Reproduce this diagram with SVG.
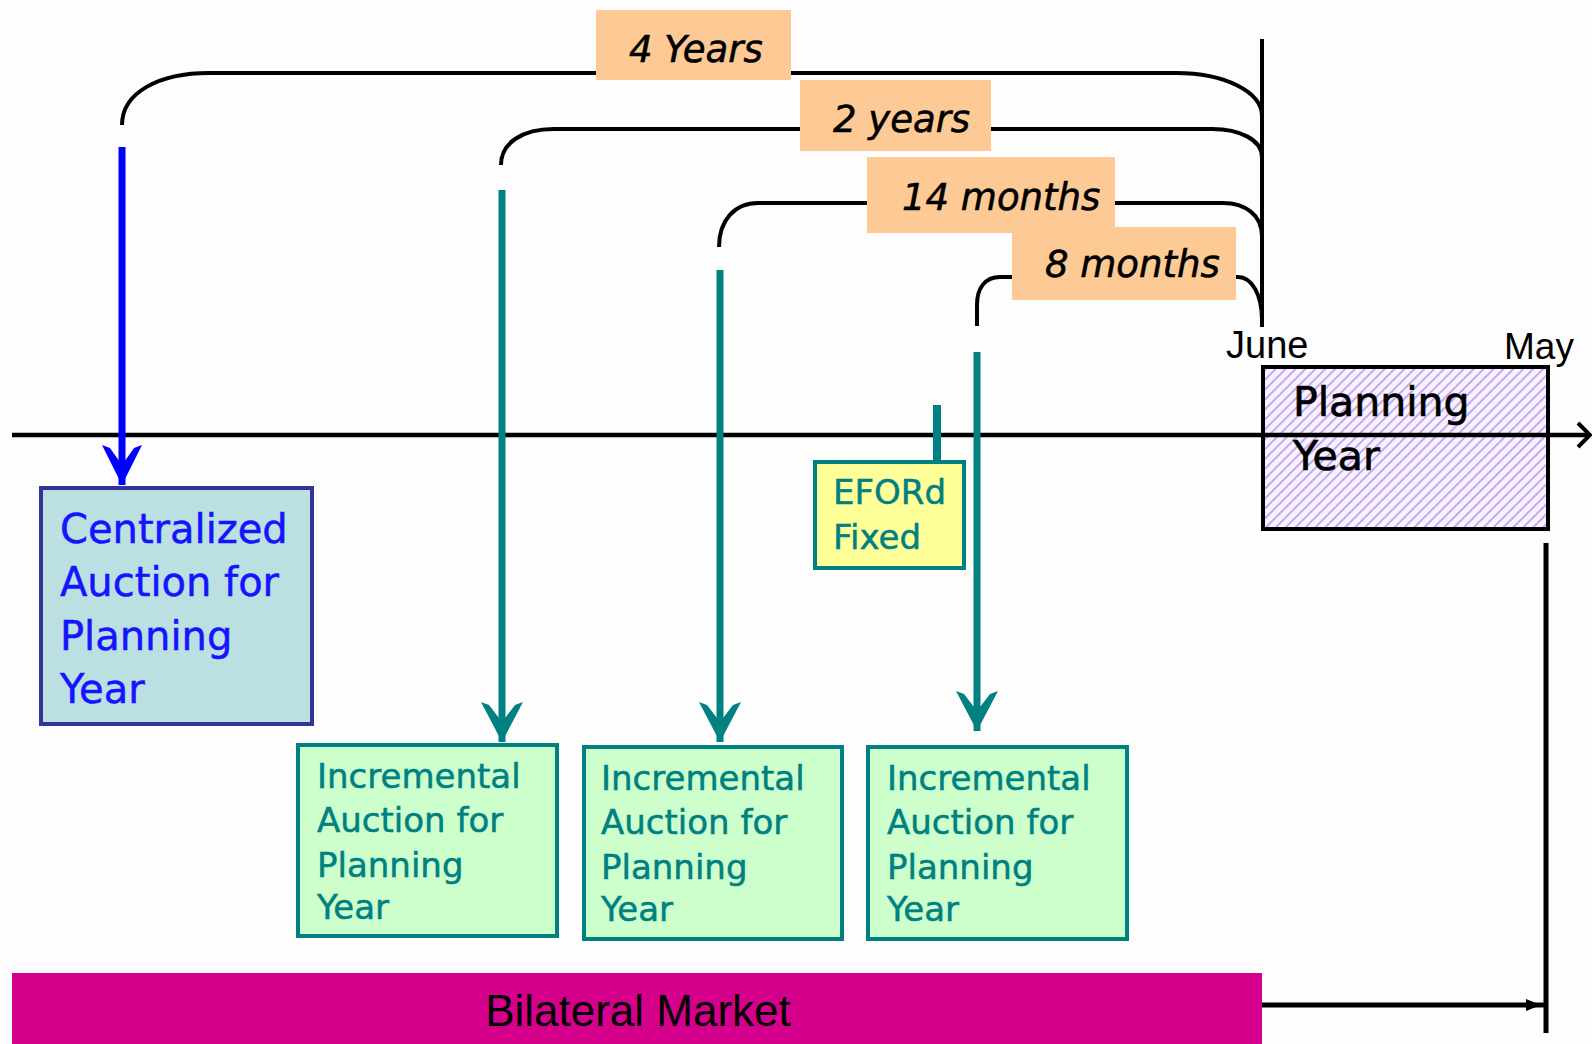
<svg xmlns="http://www.w3.org/2000/svg" width="1592" height="1044" viewBox="0 0 1592 1044">
<defs>
<style>
.brk{fill:none;stroke:#000;stroke-width:4}
.lbl{fill:#FDCA96}
.lt{font-family:"DejaVu Sans",sans-serif;font-style:oblique;font-size:37px;fill:#000;stroke:#000;stroke-width:0.6}
.bx{font-family:"DejaVu Sans",sans-serif;font-size:34px;fill:#008080;stroke:#008080;stroke-width:0.5}
.inc{fill:#CCFFCC;stroke:#008080;stroke-width:4}
.teal{stroke:#008080;stroke-width:7;fill:none}
.ar{font-family:"Liberation Sans",Arial,sans-serif;fill:#000}
</style>
<marker id="vt" viewBox="-42 -24 44 48" refX="0" refY="0" markerWidth="44" markerHeight="48" markerUnits="userSpaceOnUse" orient="auto">
<path d="M0,0 L-40,-21 L-37,-13 L-20,0 L-37,13 L-40,21 Z" fill="#008080"/>
</marker>
<marker id="vb" viewBox="-42 -24 44 48" refX="0" refY="0" markerWidth="44" markerHeight="48" markerUnits="userSpaceOnUse" orient="auto">
<path d="M0,0 L-40,-20 L-37,-12 L-20,0 L-37,12 L-40,20 Z" fill="#0000FF"/>
</marker>
<pattern id="hatch" width="7" height="7" patternUnits="userSpaceOnUse" patternTransform="rotate(45)">
<rect width="7" height="7" fill="#F8F4FF"/>
<line x1="1" y1="0" x2="1" y2="7" stroke="#C29EF5" stroke-width="1.8"/>
</pattern>
</defs>
<rect width="1592" height="1044" fill="#FDFDFD"/>

<g id="connectors">
<path class="brk" d="M122,125 C122,92 160,73 209,73 L1176,73 C1225,73 1262,92 1262,116"/>
<path class="brk" d="M501,165 C501,143 522,129 554,129 L1212,129 C1240,129 1262,140 1262,157"/>
<path class="brk" d="M719,247 C719,220 735,203 758,203 L1223,203 C1245,203 1262,215 1262,236"/>
<path class="brk" d="M977,326 L977,305 C977,288 985,277 1000,277 L1238,277 C1252,277 1262,295 1262,320"/>
<line x1="1262" y1="39" x2="1262" y2="327" stroke="#000" stroke-width="4"/>
<line x1="12" y1="435" x2="1590" y2="435" stroke="#000" stroke-width="4.5"/>
<path d="M1578,423 L1590,435 L1578,447" fill="none" stroke="#000" stroke-width="4"/>
<line x1="122" y1="147" x2="122" y2="485" stroke="#0000FF" stroke-width="7" marker-end="url(#vb)"/>
<line class="teal" x1="502" y1="190" x2="502" y2="742" marker-end="url(#vt)"/>
<line class="teal" x1="720" y1="270" x2="720" y2="742" marker-end="url(#vt)"/>
<line class="teal" x1="977" y1="352" x2="977" y2="731" marker-end="url(#vt)"/>
<line x1="937" y1="405" x2="937" y2="462" stroke="#008080" stroke-width="8"/>
<line x1="1546" y1="543" x2="1546" y2="1033" stroke="#000" stroke-width="5"/>
<line x1="1262" y1="1005" x2="1544" y2="1005" stroke="#000" stroke-width="5"/>
<path d="M1541,1005 L1526,999 L1526,1011 Z" fill="#000"/>
</g>

<g id="label-4years">
<rect class="lbl" x="596" y="10" width="195" height="70"/>
<text class="lt" x="629" y="62">4 Years</text>
</g>
<g id="label-2years">
<rect class="lbl" x="800" y="80" width="191" height="71"/>
<text class="lt" x="833" y="132">2 years</text>
</g>
<g id="label-14months">
<rect class="lbl" x="867" y="157" width="248" height="76"/>
<text class="lt" x="902" y="210">14 months</text>
</g>
<g id="label-8months">
<rect class="lbl" x="1012" y="227" width="224" height="73"/>
<text class="lt" x="1045" y="277">8 months</text>
</g>

<g id="june">
<text class="ar" x="1226" y="358" font-size="38">June</text>
</g>
<g id="may">
<text class="ar" x="1504" y="359" font-size="37">May</text>
</g>

<g id="planning-year">
<rect x="1263" y="367" width="285" height="162" fill="url(#hatch)" stroke="#000" stroke-width="4"/>
<line x1="1263" y1="435" x2="1548" y2="435" stroke="#000" stroke-width="4.5"/>
<text font-family="DejaVu Sans, sans-serif" font-size="41" fill="#000" stroke="#000" stroke-width="0.7"><tspan x="1293" y="416">Planning</tspan><tspan x="1293" y="470">Year</tspan></text>
</g>

<g id="centralized">
<rect x="41" y="488" width="271" height="236" fill="#BCE0E2" stroke="#333399" stroke-width="4"/>
<text font-family="DejaVu Sans, sans-serif" font-size="40" fill="#1414FF" stroke="#1414FF" stroke-width="0.5"><tspan x="60" y="543">Centralized</tspan><tspan x="60" y="596">Auction for</tspan><tspan x="60" y="650">Planning</tspan><tspan x="60" y="703">Year</tspan></text>
</g>

<g id="eford">
<rect x="815" y="462" width="149" height="106" fill="#FFFF99" stroke="#008080" stroke-width="4"/>
<text class="bx" font-size="32"><tspan x="833" y="504">EFORd</tspan><tspan x="833" y="549">Fixed</tspan></text>
</g>

<g id="incremental-1">
<rect class="inc" x="298" y="745" width="259" height="191"/>
<text class="bx"><tspan x="317" y="788">Incremental</tspan><tspan x="317" y="832">Auction for</tspan><tspan x="317" y="877">Planning</tspan><tspan x="317" y="919">Year</tspan></text>
</g>
<g id="incremental-2">
<rect class="inc" x="584" y="747" width="258" height="192"/>
<text class="bx"><tspan x="601" y="790">Incremental</tspan><tspan x="601" y="834">Auction for</tspan><tspan x="601" y="879">Planning</tspan><tspan x="601" y="921">Year</tspan></text>
</g>
<g id="incremental-3">
<rect class="inc" x="868" y="747" width="259" height="192"/>
<text class="bx"><tspan x="887" y="790">Incremental</tspan><tspan x="887" y="834">Auction for</tspan><tspan x="887" y="879">Planning</tspan><tspan x="887" y="921">Year</tspan></text>
</g>

<g id="bilateral-market">
<rect x="12" y="973" width="1250" height="71" fill="#D4008C"/>
<text class="ar" x="638" y="1026" font-size="44" text-anchor="middle">Bilateral Market</text>
</g>
</svg>
